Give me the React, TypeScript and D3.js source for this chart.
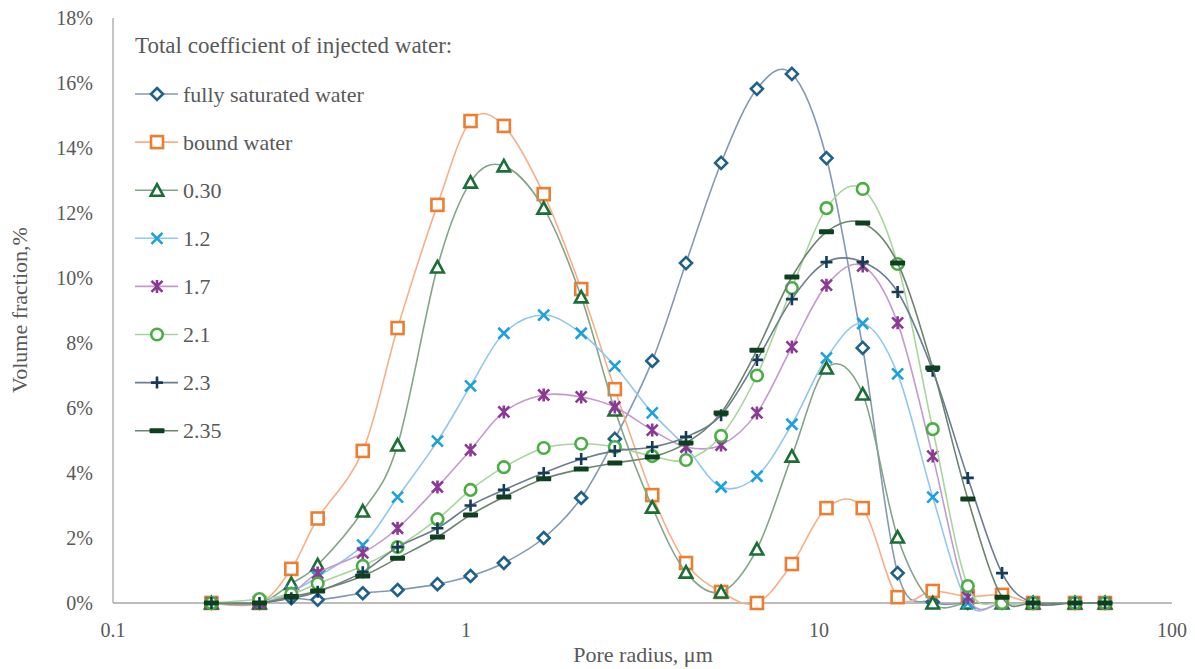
import React, { useEffect, useRef } from "react";
import * as d3 from "d3";

// pore radius, um
const radius = [
  0.19, 0.26, 0.32, 0.38, 0.51, 0.64, 0.83, 1.03, 1.28, 1.66, 2.12, 2.64, 3.37,
  4.2, 5.28, 6.67, 8.38, 10.5, 13.3, 16.7, 21.0, 26.4, 33.0, 40.4, 53.1, 64.6,
];

// volume fraction, %
const saturatedWater = [
  0, 0, 0.15, 0.1, 0.3, 0.4, 0.58, 0.83, 1.23, 2.0, 3.23, 5.05, 7.45, 10.46,
  13.54, 15.82, 16.28, 13.69, 7.85, 0.92, 0.03, 0, 0, 0, 0, 0,
];
const boundWater = [
  0, 0, 1.05, 2.6, 4.68, 8.46, 12.25, 14.83, 14.68, 12.58, 9.66, 6.58, 3.32,
  1.23, 0.34, 0, 1.2, 2.92, 2.92, 0.18, 0.37, 0.2, 0.25, 0, 0, 0,
];
const coef030 = [
  0, 0, 0.6, 1.17, 2.83, 4.86, 10.34, 12.95, 13.45, 12.15, 9.42, 5.94, 2.95,
  0.95, 0.34, 1.66, 4.52, 7.23, 6.43, 2.03, 0, 0, 0, 0, 0, 0,
];
const coef12 = [
  0, 0, 0.35, 0.8, 1.78, 3.26, 4.98, 6.68, 8.3, 8.86, 8.3, 7.29, 5.85, 4.8,
  3.57, 3.9, 5.5, 7.54, 8.6, 7.05, 3.26, 0, 0, 0, 0, 0,
];
const coef17 = [
  0, 0, 0.3, 0.92, 1.54, 2.3, 3.57, 4.71, 5.88, 6.4, 6.34, 6.03, 5.32, 4.8,
  4.86, 5.85, 7.88, 9.78, 10.37, 8.62, 4.52, 0.18, 0, 0, 0, 0,
];
const coef21 = [
  0, 0.12, 0.28, 0.6, 1.14, 1.72, 2.58, 3.48, 4.18, 4.77, 4.9, 4.8, 4.52, 4.4,
  5.14, 7.0, 9.69, 12.15, 12.74, 10.43, 5.35, 0.52, 0, 0, 0, 0,
];
const coef23 = [
  0, 0, 0.15, 0.35, 0.95, 1.72, 2.3, 3.0, 3.48, 4.0, 4.43, 4.68, 4.8, 5.11,
  5.78, 7.48, 9.35, 10.49, 10.49, 9.57, 7.15, 3.85, 0.92, 0, 0, 0,
];
const coef235 = [
  0, 0, 0.2, 0.37, 0.83, 1.38, 2.03, 2.71, 3.26, 3.82, 4.12, 4.31, 4.49, 4.92,
  5.85, 7.78, 10.03, 11.42, 11.69, 10.46, 7.23, 3.2, 0.18, 0, 0, 0,
];

const seriesNames = [
  "fully saturated water",
  "bound water",
  "0.30",
  "1.2",
  "1.7",
  "2.1",
  "2.3",
  "2.35",
];
const seriesValues = [
  saturatedWater,
  boundWater,
  coef030,
  coef12,
  coef17,
  coef21,
  coef23,
  coef235,
];
const markerShapes = ["diamond", "square", "triangle", "x", "star", "circle", "plus", "dash"];
const markerColors = [
  "#1f6189",
  "#ed7d31",
  "#1a6e36",
  "#1da1dc",
  "#8b3a93",
  "#4aae45",
  "#163b57",
  "#0e4020",
];
const lineColors = [
  "#8499b2",
  "#f5b08a",
  "#85a487",
  "#92c8ec",
  "#c29bcc",
  "#a7d59c",
  "#6c7d8e",
  "#6c8470",
];

const xTicks = [0.1, 1, 10, 100];
const yTicks = [0, 2, 4, 6, 8, 10, 12, 14, 16, 18];

const W = 1195;
const H = 669;
const font = "Liberation Serif";
const textColor = "#595959";

const drawMarker = (g, shape, color) => {
  if (shape === "diamond") {
    g.append("path")
      .attr("d", "M0,-6L6,0L0,6L-6,0Z")
      .attr("fill", "white")
      .attr("stroke", color)
      .attr("stroke-width", 2.6);
  } else if (shape === "square") {
    g.append("rect")
      .attr("x", -6)
      .attr("y", -6)
      .attr("width", 12)
      .attr("height", 12)
      .attr("fill", "white")
      .attr("stroke", color)
      .attr("stroke-width", 2.6);
  } else if (shape === "triangle") {
    g.append("path")
      .attr("d", "M0,-6L6.3,5.5L-6.3,5.5Z")
      .attr("fill", "white")
      .attr("stroke", color)
      .attr("stroke-width", 2.6);
  } else if (shape === "circle") {
    g.append("circle")
      .attr("r", 5.8)
      .attr("fill", "white")
      .attr("stroke", color)
      .attr("stroke-width", 2.6);
  } else if (shape === "x") {
    g.append("path")
      .attr("d", "M-5.5,-5.5L5.5,5.5M-5.5,5.5L5.5,-5.5")
      .attr("stroke", color)
      .attr("stroke-width", 2.6);
  } else if (shape === "star") {
    g.append("path")
      .attr("d", "M-5.5,-5.5L5.5,5.5M-5.5,5.5L5.5,-5.5M0,-6.5L0,6.5")
      .attr("stroke", color)
      .attr("stroke-width", 2.6);
  } else if (shape === "plus") {
    g.append("path")
      .attr("d", "M-6,0L6,0M0,-6L0,6")
      .attr("stroke", color)
      .attr("stroke-width", 2.6);
  } else if (shape === "dash") {
    g.append("rect")
      .attr("x", -7.5)
      .attr("y", -2.5)
      .attr("width", 15)
      .attr("height", 5)
      .attr("rx", 1)
      .attr("fill", color);
  }
};

const App = () => {
  const ref = useRef(null);

  useEffect(() => {
    const svg = d3.select(ref.current);
    svg.selectAll("*").remove();
    svg.style("font-family", font);

    const left = 113,
      right = 1172,
      top = 18,
      bottom = 603;

    const x = d3.scaleLog().domain([0.1, 100]).range([left, right]);
    const y = d3.scaleLinear().domain([0, 18]).range([bottom, top]);

    // axes lines
    svg
      .append("line")
      .attr("x1", left)
      .attr("x2", left)
      .attr("y1", top)
      .attr("y2", bottom)
      .attr("stroke", "#a6a6a6")
      .attr("stroke-width", 1.3);
    svg
      .append("line")
      .attr("x1", left)
      .attr("x2", right)
      .attr("y1", bottom)
      .attr("y2", bottom)
      .attr("stroke", "#a6a6a6")
      .attr("stroke-width", 1.3);

    // tick labels
    svg
      .append("g")
      .selectAll("text")
      .data(yTicks)
      .join("text")
      .attr("x", 93)
      .attr("y", (d) => y(d) + 7)
      .attr("text-anchor", "end")
      .attr("font-size", 20)
      .attr("fill", textColor)
      .text((d) => `${d}%`);

    svg
      .append("g")
      .selectAll("text")
      .data(xTicks)
      .join("text")
      .attr("x", (d) => x(d))
      .attr("y", 637)
      .attr("text-anchor", "middle")
      .attr("font-size", 20)
      .attr("fill", textColor)
      .text((d) => String(d));

    // axis titles
    svg
      .append("text")
      .attr("x", 643)
      .attr("y", 662)
      .attr("text-anchor", "middle")
      .attr("font-size", 22)
      .attr("fill", textColor)
      .text("Pore radius, μm");

    svg
      .append("text")
      .attr("transform", "translate(27,310) rotate(-90)")
      .attr("text-anchor", "middle")
      .attr("font-size", 22)
      .attr("fill", textColor)
      .text("Volume fraction,%");

    // series
    const line = d3
      .line()
      .x((d) => x(d[0]))
      .y((d) => y(d[1]))
      .curve(d3.curveCardinal.tension(0));

    seriesValues.forEach((vals, i) => {
      const pts = radius.map((r, j) => [r, vals[j]]);
      const g = svg.append("g");
      g.append("path")
        .attr("d", line(pts))
        .attr("fill", "none")
        .attr("stroke", lineColors[i])
        .attr("stroke-width", 1.6);
      pts.forEach((p) => {
        const mg = g
          .append("g")
          .attr("transform", `translate(${x(p[0])},${y(p[1])})`);
        drawMarker(mg, markerShapes[i], markerColors[i]);
      });
    });

    // legend
    const legend = svg.append("g");
    legend
      .append("text")
      .attr("x", 135)
      .attr("y", 53)
      .attr("font-size", 23)
      .attr("fill", textColor)
      .text("Total coefficient of injected water:");

    seriesNames.forEach((name, i) => {
      const cy = 94 + i * 48.1;
      legend
        .append("line")
        .attr("x1", 135)
        .attr("x2", 178)
        .attr("y1", cy)
        .attr("y2", cy)
        .attr("stroke", lineColors[i])
        .attr("stroke-width", 1.6);
      const mg = legend.append("g").attr("transform", `translate(157,${cy})`);
      drawMarker(mg, markerShapes[i], markerColors[i]);
      legend
        .append("text")
        .attr("x", 183)
        .attr("y", cy + 7.5)
        .attr("font-size", 22)
        .attr("fill", textColor)
        .text(name);
    });
  }, []);

  return (
    <svg
      ref={ref}
      width={W}
      height={H}
      style={{ position: "absolute", left: 0, top: 0, background: "white" }}
    />
  );
};

export default App;
